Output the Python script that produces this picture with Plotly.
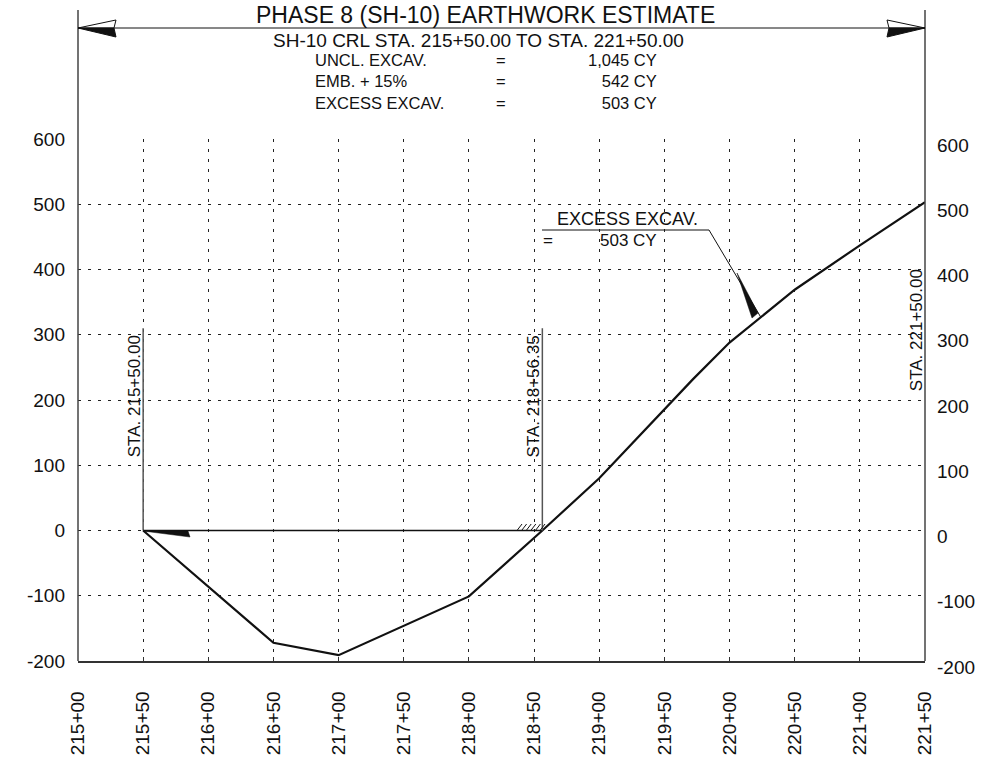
import plotly.graph_objects as go
import numpy as np

# ---------------- data ----------------
stations = [21550, 21650, 21700, 21800, 21856.35, 21900, 21972, 22000, 22050, 22100, 22150]
mass_cy = [0, -172, -191, -101, 0, 80, 232, 288, 369, 437, 503]

x_tickvals = [21500, 21550, 21600, 21650, 21700, 21750, 21800, 21850,
              21900, 21950, 22000, 22050, 22100, 22150]
x_ticktext = ["215+00", "215+50", "216+00", "216+50", "217+00", "217+50", "218+00",
              "218+50", "219+00", "219+50", "220+00", "220+50", "221+00", "221+50"]
y_tickvals = [-200, -100, 0, 100, 200, 300, 400, 500, 600]
y_ticktext = ["-200", "-100", "0", "100", "200", "300", "400", "500", "600"]

title_text = "PHASE 8 (SH-10) EARTHWORK ESTIMATE"
subtitle_text = "SH-10 CRL STA. 215+50.00 TO STA. 221+50.00"
summary_items = ["UNCL. EXCAV.", "EMB. + 15%", "EXCESS EXCAV."]
summary_values = ["1,045 CY", "542 CY", "503 CY"]

sta_begin, sta_balance, sta_end = 21550, 21856.35, 22150
sta_labels = ["STA. 215+50.00", "STA. 218+56.35", "STA. 221+50.00"]
leader_label = "EXCESS EXCAV."
leader_value = "503 CY"
leader_sta = 22024

X0, X1 = 21500, 22150
Y0, Y1 = -200, 600

# ---------------- geometry helpers (decoration only) ----------------
W, H = 994, 760
PL, PR, PT, PB = 78, 925, 139, 661


def pxX(px):
    return (px - PL) / (PR - PL)


def pxY(py):
    return (PB - py) / (PB - PT)


def dX(px):
    return X0 + (px - PL) * (X1 - X0) / (PR - PL)


def dY(py):
    return Y1 - (py - PT) * (Y1 - Y0) / (PB - PT)


FONT = "Liberation Sans, Arial, sans-serif"
INK = "#111111"

fig = go.Figure()

# zero (balance) line
fig.add_trace(go.Scatter(x=[sta_begin, sta_balance], y=[0, 0], mode="lines",
                         line=dict(color=INK, width=1.5), hoverinfo="skip"))
# mass curve
fig.add_trace(go.Scatter(x=stations, y=mass_cy, mode="lines",
                         line=dict(color=INK, width=2.2), hoverinfo="skip"))

shapes = []
# frame lines extending above plot
for xp in (0, 1):
    shapes.append(dict(type="line", xref="paper", yref="paper", x0=xp, x1=xp,
                       y0=0, y1=pxY(10), line=dict(color="#444", width=1.5)))
# top dimension line
shapes.append(dict(type="line", xref="paper", yref="paper", x0=0, x1=1,
                   y0=pxY(28), y1=pxY(28), line=dict(color=INK, width=1)))


def ppath(pts, close=True):
    s = "M " + " L ".join(f"{pxX(a):.5f},{pxY(b):.5f}" for a, b in pts)
    return s + (" Z" if close else "")


def dpath(pts, close=True):
    s = "M " + " L ".join(f"{dX(a):.4f},{dY(b):.4f}" for a, b in pts)
    return s + (" Z" if close else "")


# left arrowhead
shapes.append(dict(type="path", xref="paper", yref="paper",
                   path=ppath([(78, 28), (116, 20), (114, 28)]),
                   line=dict(color=INK, width=1), fillcolor="white"))
shapes.append(dict(type="path", xref="paper", yref="paper",
                   path=ppath([(78, 28), (114, 28), (116, 37)]),
                   line=dict(color=INK, width=1), fillcolor=INK))
# right arrowhead
shapes.append(dict(type="path", xref="paper", yref="paper",
                   path=ppath([(925, 28), (887, 20), (889, 28)]),
                   line=dict(color=INK, width=1), fillcolor="white"))
shapes.append(dict(type="path", xref="paper", yref="paper",
                   path=ppath([(925, 28), (889, 28), (887, 37)]),
                   line=dict(color=INK, width=1), fillcolor=INK))

# station vertical lines
sta_line_top = 310
for s in (sta_begin, sta_balance):
    shapes.append(dict(type="line", xref="x", yref="y", x0=s, x1=s, y0=0, y1=sta_line_top,
                       line=dict(color="#555", width=1.5)))

# arrow wedge at start of balance line
shapes.append(dict(type="path", xref="x", yref="y",
                   path=dpath([(143, 531), (188, 531), (190, 537)]),
                   line=dict(color=INK, width=0.5), fillcolor=INK))

# hatch at balance point
for i in range(6):
    hx = 517 + i * 4.6
    shapes.append(dict(type="line", xref="x", yref="y", x0=dX(hx), y0=0,
                       x1=dX(hx + 5), y1=dY(524), line=dict(color=INK, width=1)))

# leader line to the curve
tip_y = float(np.interp(leader_sta, stations, mass_cy))
leader_path = (f"M {dX(542):.4f},{dY(230):.4f} L {dX(709):.4f},{dY(230):.4f} "
               f"L {leader_sta},{tip_y}")
shapes.append(dict(type="path", xref="x", yref="y", path=leader_path,
                   line=dict(color=INK, width=1)))
shapes.append(dict(type="path", xref="x", yref="y",
                   path=dpath([(737, 273), (752, 318), (758, 313)]),
                   line=dict(color=INK, width=0.5), fillcolor=INK))

annotations = []


def pann(text, px, py, size, xanchor="center", yanchor="middle", **kw):
    annotations.append(dict(text=text, xref="paper", yref="paper", x=pxX(px), y=pxY(py),
                            xanchor=xanchor, yanchor=yanchor, showarrow=False,
                            font=dict(size=size, color=INK, family=FONT), **kw))


pann(title_text, 485, 15, 23)
pann(subtitle_text, 478, 41, 19)

# summary table: one multi-line block per column
pann("<br>".join(summary_items), 313, 82, 16.5, xanchor="left", align="left")
pann("<br>".join(["="] * len(summary_items)), 501, 82, 16.5, align="center")
pann("<br>".join(summary_values), 659, 82, 16.5, xanchor="right", align="right")

# leader text (above / below the underline)
pann(leader_label, 555, 231, 18, xanchor="left", yanchor="bottom")
pann("=", 548, 229, 17, yanchor="top")
pann(leader_value, 659, 229, 17, xanchor="right", yanchor="top")

# station labels (rotated)
for s, lab, yc in zip([sta_begin, sta_balance, sta_end], sta_labels, [206, 206, 307]):
    annotations.append(dict(text=lab, xref="x", yref="y", x=s, y=yc, textangle=-90,
                            xanchor="center", yanchor="middle", xshift=-9, showarrow=False,
                            font=dict(size=17, color=INK, family=FONT)))

# right axis labels
for v, t in zip(y_tickvals, y_ticktext):
    annotations.append(dict(text=t, xref="paper", yref="y", x=1, y=v, xanchor="left",
                            yanchor="middle", xshift=10, yshift=-6, showarrow=False,
                            font=dict(size=19, color=INK, family=FONT)))

grid_dash = "3px,7px"
fig.update_layout(
    width=W, height=H,
    margin=dict(l=PL, r=W - PR, t=PT, b=H - PB, pad=0, autoexpand=False),
    paper_bgcolor="white", plot_bgcolor="white",
    showlegend=False,
    font=dict(family=FONT, color=INK),
    shapes=shapes,
    annotations=annotations,
    xaxis=dict(range=[X0, X1], tickmode="array", tickvals=x_tickvals, ticktext=x_ticktext,
               tickangle=-90, tickfont=dict(size=19, color=INK, family=FONT),
               showgrid=True, gridcolor="#222", gridwidth=1, griddash=grid_dash,
               showline=True, linecolor="#333", linewidth=1.5, mirror=False,
               ticks="inside", ticklen=4, tickcolor="#333", automargin=False,
               ticklabelstandoff=21, zeroline=False, fixedrange=True),
    yaxis=dict(range=[Y0, Y1], tickmode="array", tickvals=y_tickvals, ticktext=y_ticktext,
               tickfont=dict(size=19, color=INK, family=FONT), automargin=False,
               showgrid=True, gridcolor="#222", gridwidth=1, griddash=grid_dash,
               showline=False, ticks="", ticklabelstandoff=12, zeroline=False,
               fixedrange=True),
)

fig.write_html("out.html", config={"displayModeBar": False},
               post_script="document.body.style.margin='0';document.body.style.overflow='hidden';")
